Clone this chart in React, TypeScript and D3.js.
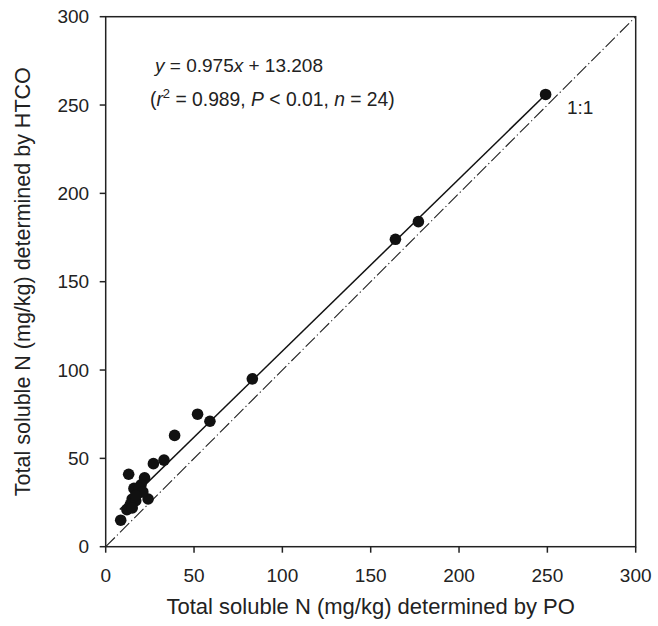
import React from "react";
import * as d3 from "d3";

const poValues = [249, 177, 164, 83, 59, 52, 39, 33, 27, 22, 13, 20, 16, 18, 15, 24, 14, 12, 8.5, 17, 19, 15, 21, 17];
const htcoValues = [256, 184, 174, 95, 71, 75, 63, 49, 47, 39, 41, 35, 33, 30, 27, 27, 24, 21, 15, 26, 33, 22, 31, 29];
const xTicks = [0, 50, 100, 150, 200, 250, 300];
const yTicks = [0, 50, 100, 150, 200, 250, 300];
const slope = 0.975;
const intercept = 13.208;
const fitRange = [8, 249];

const W = 658;
const H = 626;
const M = { left: 105.7, right: 658 - 635.7, top: 16.7, bottom: 626 - 546.7 };

export default function App() {
  const x = d3.scaleLinear().domain([0, 300]).range([M.left, W - M.right]);
  const y = d3.scaleLinear().domain([0, 300]).range([H - M.bottom, M.top]);
  const font = "'Liberation Sans', Arial, Helvetica, sans-serif";
  const line = d3.line<[number, number]>().x((d) => x(d[0])).y((d) => y(d[1]));
  const fitPts: [number, number][] = fitRange.map((v) => [v, slope * v + intercept]);
  const onePts: [number, number][] = [[0, 0], [300, 300]];
  const x0 = x(0), x1 = x(300), y0 = y(0), y1 = y(300);
  const cx = (x0 + x1) / 2;
  const cy = (y0 + y1) / 2;
  return (
    <svg width={W} height={H} style={{ position: "absolute", left: 0, top: 0, background: "#fff" }} fontFamily={font}>
      <rect x={0} y={0} width={W} height={H} fill="#fff" />
      <path d={line(onePts) || ""} fill="none" stroke="#222" strokeWidth={1.1} strokeDasharray="13,3,1.2,3" />
      <path d={line(fitPts) || ""} fill="none" stroke="#111" strokeWidth={1.5} />
      {poValues.map((v, i) => (
        <circle key={i} cx={x(v)} cy={y(htcoValues[i])} r={5.8} fill="#111" />
      ))}
      <rect x={x0} y={y1} width={x1 - x0} height={y0 - y1} fill="none" stroke="#222" strokeWidth={1.5} />
      {xTicks.map((t) => (
        <g key={"x" + t}>
          <line x1={x(t)} x2={x(t)} y1={y0} y2={y0 + 6} stroke="#222" strokeWidth={1.5} />
          <text x={x(t)} y={582} textAnchor="middle" fontSize={19} fill="#222">{t}</text>
        </g>
      ))}
      {yTicks.map((t) => (
        <g key={"y" + t}>
          <line x1={x0 - 6} x2={x0} y1={y(t)} y2={y(t)} stroke="#222" strokeWidth={1.5} />
          <text x={x0 - 16.5} y={y(t)} dy="0.35em" textAnchor="end" fontSize={19} fill="#222">{t}</text>
        </g>
      ))}
      <text x={cx} y={614} textAnchor="middle" fontSize={22} fill="#222">Total soluble N (mg/kg) determined by PO</text>
      <text transform={`translate(30,${cy}) rotate(-90)`} textAnchor="middle" fontSize={21.5} fill="#222">Total soluble N (mg/kg) determined by HTCO</text>
      <text x={155} y={72} fontSize={19} fill="#222">
        <tspan fontStyle="italic">y</tspan> = 0.975<tspan fontStyle="italic">x</tspan> + 13.208
      </text>
      <text x={150} y={106} fontSize={19.3} fill="#222">
        (<tspan fontStyle="italic">r</tspan><tspan dy={-8} fontSize={13}>2</tspan><tspan dy={8}> = 0.989, </tspan><tspan fontStyle="italic">P</tspan> &lt; 0.01, <tspan fontStyle="italic">n</tspan> = 24)
      </text>
      <text x={567} y={113.5} fontSize={19} fill="#222">1:1</text>
    </svg>
  );
}
